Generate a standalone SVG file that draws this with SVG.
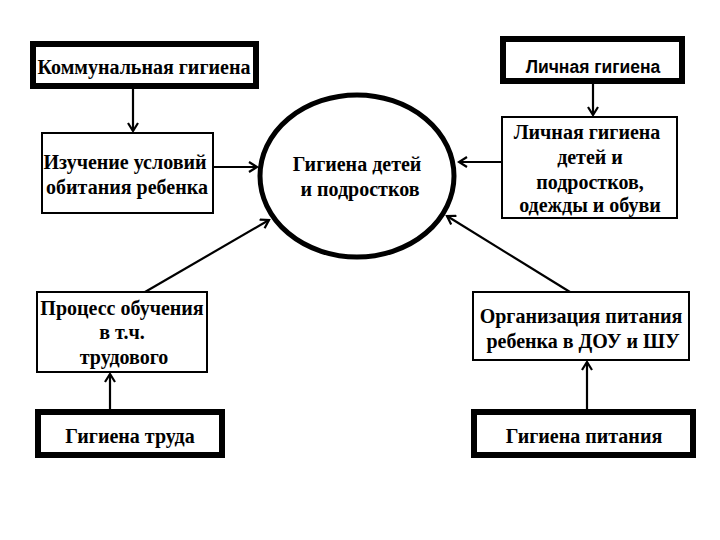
<svg xmlns="http://www.w3.org/2000/svg" width="720" height="540" viewBox="0 0 720 540">
<style>
.thick{fill:#fff;stroke:#000;stroke-width:6}
.thin{fill:#fff;stroke:#000;stroke-width:2}
.t{font-family:"Liberation Serif","Times New Roman",serif;font-weight:bold;font-size:20px;text-anchor:middle;fill:#000}
.s{font-family:"Liberation Sans",Arial,sans-serif;font-weight:bold;font-size:17.5px;text-anchor:middle;fill:#000}
.c{stroke:#000;stroke-width:2.2;fill:none;marker-end:url(#a)}
</style>
<defs>
<marker id="a" viewBox="0 0 12 12" refX="10" refY="6" markerWidth="12" markerHeight="12" markerUnits="userSpaceOnUse" orient="auto">
<path d="M2,1 L10,6 L2,11" fill="none" stroke="#000" stroke-width="2.2"/>
</marker>
</defs>
<g id="connectors">
<line class="c" x1="133" y1="89" x2="133" y2="131"/>
<line class="c" x1="213" y1="167" x2="257" y2="167"/>
<line class="c" x1="593" y1="84" x2="593" y2="115"/>
<line class="c" x1="502" y1="162" x2="459" y2="162"/>
<line class="c" x1="145" y1="292" x2="269" y2="220"/>
<line class="c" x1="110" y1="410" x2="110" y2="374"/>
<line class="c" x1="570" y1="292" x2="447" y2="216"/>
<line class="c" x1="587" y1="409" x2="587" y2="362"/>
</g>
<g id="center">
<ellipse cx="357" cy="176" rx="97" ry="81" fill="#fff" stroke="#000" stroke-width="5"/>
<text class="t" x="357" y="171">Гигиена детей</text>
<text class="t" x="360" y="196">и подростков</text>
</g>
<g id="kommunal">
<rect class="thick" x="33" y="44" width="223" height="42"/>
<text class="t" x="144" y="74">Коммунальная гигиена</text>
</g>
<g id="izuchenie">
<rect class="thin" x="42" y="133" width="171" height="80"/>
<text class="t" x="125" y="169">Изучение условий</text>
<text class="t" x="127" y="194">обитания ребенка</text>
</g>
<g id="lichnaya">
<rect class="thick" x="503" y="39" width="179" height="42"/>
<text class="s" x="593" y="73">Личная гигиена</text>
</g>
<g id="lichnaya-detei">
<rect class="thin" x="502" y="117" width="175" height="101"/>
<text class="t" x="587" y="139">Личная гигиена</text>
<text class="t" x="590" y="164">детей и</text>
<text class="t" x="590" y="189">подростков,</text>
<text class="t" x="590" y="212">одежды и обуви</text>
</g>
<g id="process">
<rect class="thin" x="37" y="292" width="170" height="80"/>
<text class="t" x="122" y="315">Процесс обучения</text>
<text class="t" x="122" y="339">в т.ч.</text>
<text class="t" x="124" y="364">трудового</text>
</g>
<g id="gigiena-truda">
<rect class="thick" x="38" y="412" width="184" height="43"/>
<text class="t" x="130" y="443">Гигиена труда</text>
</g>
<g id="organizaciya">
<rect class="thin" x="473" y="292" width="216" height="68"/>
<text class="t" x="581" y="323">Организация питания</text>
<text class="t" x="583" y="348">ребенка в ДОУ и ШУ</text>
</g>
<g id="gigiena-pitaniya">
<rect class="thick" x="474" y="412" width="219" height="43"/>
<text class="t" x="584" y="443">Гигиена питания</text>
</g>
</svg>
